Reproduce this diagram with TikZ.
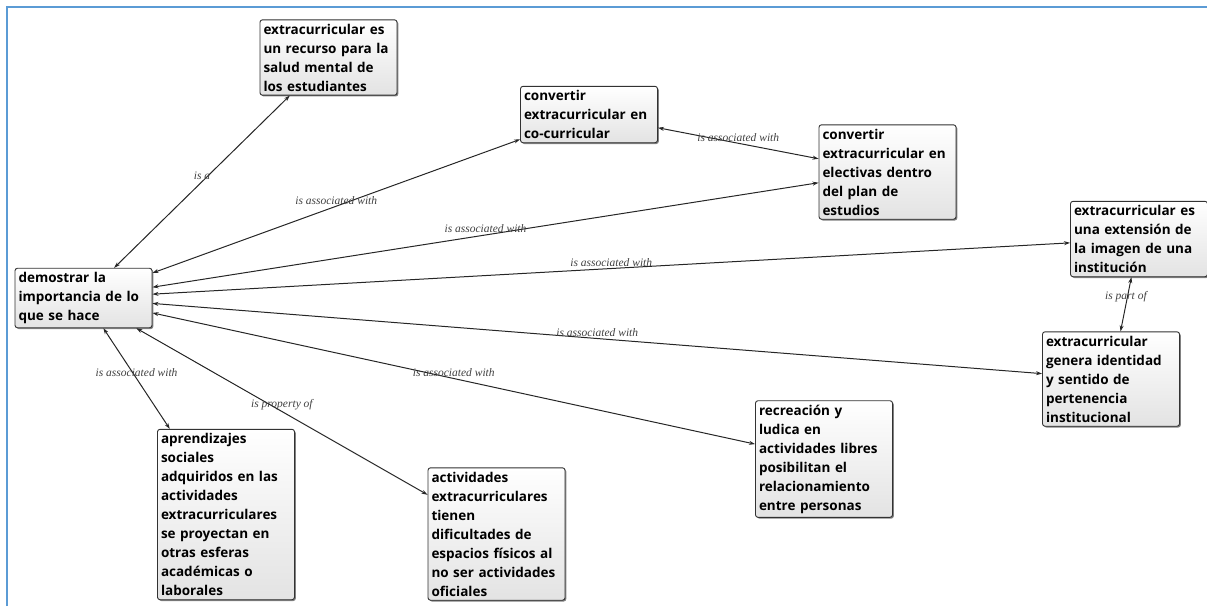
\documentclass[tikz,border=0pt]{standalone}
\usepackage{fontspec}
\setsansfont{Open Sans}
\newfontfamily\relfont{Liberation Serif}
\usetikzlibrary{arrows.meta,shadows,positioning}
\definecolor{framebl}{RGB}{91,155,213}
\definecolor{boxedge}{RGB}{50,50,50}

\begin{document}
\begin{tikzpicture}[>={Stealth[length=6pt,width=4pt]},x=1pt,y=-1pt]
 \tikzstyle{code node}=[rectangle,rounded corners=2.5pt,draw=boxedge,line width=0.9pt,
   top color=white,bottom color=black!11,
   drop shadow={shadow xshift=1.3pt,shadow yshift=-1.3pt,fill=black!70,opacity=0.7},
   align=left,text width=130pt,inner xsep=3.5pt,inner ysep=4pt,
   execute at begin node={\hyphenpenalty=10000\relax},
   font=\sffamily\bfseries\fontsize{13.5}{19}\selectfont]
 \tikzstyle{rel label}=[font=\relfont\itshape\fontsize{11.5}{13}\selectfont,text=black!75,inner sep=1.5pt]
 \tikzset{
   rel/.style={draw=black!85,line width=1pt}
 }

 \useasboundingbox (0,0) rectangle (1207,606);
 \draw[framebl,line width=1.6pt] (7,606) -- (7,7) -- (1207,7);

       \node[code node] (sal) at (328.5,57.5) {extracurricular es\\un recurso para la\\salud mental de\\los estudiantes};
       \node[code node] (cocur) at (589,114.5) {convertir\\extracurricular en\\co-curricular};
       \node[code node] (elec) at (887.5,172) {convertir\\extracurricular en\\electivas dentro\\del plan de\\estudios};
       \node[code node] (ext) at (1139,239) {extracurricular es\\una extensión de\\la imagen de una\\institución};
       \node[code node] (dem) at (83.5,298) {demostrar la\\importancia de lo\\que se hace};
       \node[code node] (iden) at (1111,379) {extracurricular\\genera identidad\\y sentido de\\pertenencia\\institucional};
       \node[code node] (recr) at (824,459) {recreación y\\ludica en\\actividades libres\\posibilitan el\\relacionamiento\\entre personas};
       \node[code node] (apre) at (226,514.5) {aprendizajes\\sociales\\adquiridos en las\\actividades\\extracurriculares\\se proyectan en\\otras esferas\\académicas o\\laborales};
       \node[code node] (acti) at (496.5,534) {actividades\\extracurriculares\\tienen\\dificultades de\\espacios físicos al\\no ser actividades\\oficiales};

     \path[rel,<->] (dem) edge node[rel label,above] {is a} (sal);
     \path[rel,<->] (dem) edge node[rel label,above] {is associated with} (cocur);
     \path[rel,<->] (cocur) edge node[rel label,above] {is associated with} (elec);
     \path[rel,<->] (dem) edge node[rel label,above] {is associated with} (elec);
     \path[rel,<->] (dem) edge node[rel label,above] {is associated with} (ext);
     \path[rel,<->] (dem) edge node[rel label,above] {is associated with} (iden);
     \path[rel,<->] (dem) edge node[rel label,above] {is associated with} (recr);
     \path[rel,<->] (dem) edge node[rel label,above] {is property of} (acti);
     \path[rel,<->] (dem) edge node[rel label,above] {is associated with} (apre);
     \path[rel,<->] (iden) edge node[rel label,above] {is part of} (ext);
 \end{tikzpicture}
\end{document}
